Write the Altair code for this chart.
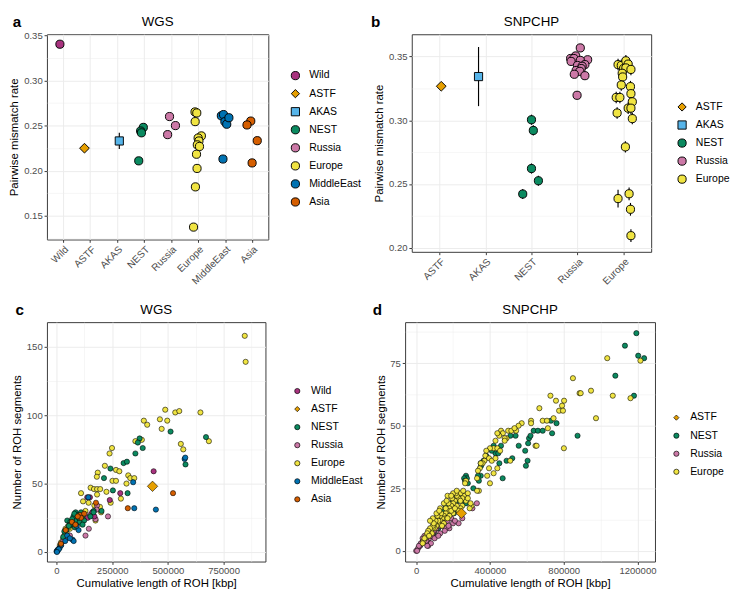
import altair as alt
import pandas as pd

FONT = "Liberation Sans"

group_colors = {
    "Wild": "#A8327E", "ASTF": "#E69F00", "AKAS": "#56B4E9", "NEST": "#0B8A60",
    "Russia": "#CC79A7", "Europe": "#F0E442", "MiddleEast": "#0072B2", "Asia": "#D55E00",
}
group_shapes = {
    "Wild": "circle", "ASTF": "diamond", "AKAS": "square", "NEST": "circle",
    "Russia": "circle", "Europe": "circle", "MiddleEast": "circle", "Asia": "circle",
}

# ---------------- panel a : WGS pairwise mismatch rate ----------------
a_categories = ["Wild", "ASTF", "AKAS", "NEST", "Russia", "Europe", "MiddleEast", "Asia"]
# (group, rate, interval half-width, horizontal jitter in category units)
a_points = [
    ("Wild", 0.340, 0.003, -0.12),
    ("ASTF", 0.225, 0.003, -0.21),
    ("AKAS", 0.233, 0.009, 0.08),
    ("NEST", 0.248, 0.003, -0.03), ("NEST", 0.244, 0.003, -0.13),
    ("NEST", 0.242, 0.003, -0.10), ("NEST", 0.211, 0.003, -0.20),
    ("Russia", 0.260, 0.003, -0.06), ("Russia", 0.250, 0.003, 0.16), ("Russia", 0.240, 0.003, -0.13),
    ("Europe", 0.2651, 0.003, -0.115), ("Europe", 0.2640, 0.003, -0.05), ("Europe", 0.2544, 0.003, -0.11),
    ("Europe", 0.2386, 0.003, 0.12), ("Europe", 0.2362, 0.003, 0.00), ("Europe", 0.2330, 0.003, 0.03),
    ("Europe", 0.2287, 0.003, -0.03), ("Europe", 0.2269, 0.003, 0.05), ("Europe", 0.2183, 0.003, -0.06),
    ("Europe", 0.2026, 0.003, -0.04), ("Europe", 0.1822, 0.003, -0.10), ("Europe", 0.1377, 0.003, -0.17),
    ("MiddleEast", 0.2608, 0.003, -0.14), ("MiddleEast", 0.2622, 0.003, -0.06), ("MiddleEast", 0.2544, 0.003, -0.01),
    ("MiddleEast", 0.2515, 0.003, 0.06), ("MiddleEast", 0.2587, 0.003, 0.14), ("MiddleEast", 0.2130, 0.003, -0.08),
    ("Asia", 0.2550, 0.003, -0.05), ("Asia", 0.2507, 0.003, -0.19), ("Asia", 0.2333, 0.003, 0.19), ("Asia", 0.2087, 0.003, 0.00),
]

# ---------------- panel b : SNPCHP pairwise mismatch rate ----------------
b_categories = ["ASTF", "AKAS", "NEST", "Russia", "Europe"]
b_points = [
    ("ASTF", 0.3267, 0.0025, 0.04),
    ("AKAS", 0.3343, 0.0232, -0.15),
    ("NEST", 0.3004, 0.004, 0.00), ("NEST", 0.2920, 0.004, 0.04), ("NEST", 0.2621, 0.004, 0.00),
    ("NEST", 0.2525, 0.004, 0.15), ("NEST", 0.2421, 0.004, -0.19),
    ("Russia", 0.3568, 0.003, 0.06), ("Russia", 0.3505, 0.003, -0.04), ("Russia", 0.3485, 0.003, -0.15),
    ("Russia", 0.3485, 0.003, -0.08), ("Russia", 0.3475, 0.003, 0.22), ("Russia", 0.3470, 0.003, 0.06),
    ("Russia", 0.3462, 0.003, -0.14), ("Russia", 0.3437, 0.003, 0.16), ("Russia", 0.3430, 0.003, 0.00),
    ("Russia", 0.3424, 0.003, 0.10), ("Russia", 0.3406, 0.003, 0.08), ("Russia", 0.3391, 0.003, -0.03),
    ("Russia", 0.3384, 0.003, 0.05), ("Russia", 0.3361, 0.003, -0.07), ("Russia", 0.3350, 0.003, 0.16),
    ("Russia", 0.3196, 0.003, -0.01),
    ("Europe", 0.3437, 0.0045, -0.12), ("Europe", 0.3430, 0.0045, -0.05), ("Europe", 0.3467, 0.0045, 0.05),
    ("Europe", 0.3441, 0.0045, 0.10), ("Europe", 0.3406, 0.0045, 0.00), ("Europe", 0.3411, 0.0045, 0.05),
    ("Europe", 0.3399, 0.0045, 0.16), ("Europe", 0.3369, 0.0045, -0.03), ("Europe", 0.3340, 0.0045, -0.02),
    ("Europe", 0.3277, 0.0045, -0.05), ("Europe", 0.3264, 0.0045, 0.15), ("Europe", 0.3209, 0.0045, 0.16),
    ("Europe", 0.3179, 0.0045, -0.16), ("Europe", 0.3179, 0.0045, -0.08), ("Europe", 0.3145, 0.0045, 0.19),
    ("Europe", 0.3095, 0.0045, 0.10), ("Europe", 0.3095, 0.0045, 0.16), ("Europe", 0.3057, 0.0045, -0.14),
    ("Europe", 0.3013, 0.0045, 0.19), ("Europe", 0.2791, 0.0045, 0.04), ("Europe", 0.2385, 0.0070, -0.12),
    ("Europe", 0.2423, 0.0050, 0.12), ("Europe", 0.2301, 0.0050, 0.15), ("Europe", 0.2094, 0.0050, 0.16),
]

# ---------------- panel c : WGS ROH (cumulative length in 1000 kbp, number of segments) ----------------
c_categories = ["Wild", "ASTF", "NEST", "Russia", "Europe", "MiddleEast", "Asia"]
c_europe = [(845, 158), (849, 139), (488, 104), (464, 97), (497, 96), (533, 102), (551, 103), (646, 102),
            (392, 96), (407, 93), (472, 90), (558, 79), (569, 75), (684, 81), (354, 81), (383, 82),
            (249, 76), (238, 72), (217, 63), (267, 60), (282, 59), (185, 58), (181, 55), (251, 52),
            (267, 52), (322, 56), (331, 54), (349, 54), (314, 50), (153, 47), (168, 46), (182, 46),
            (196, 46), (110, 43), (224, 44), (243, 36), (289, 39), (182, 42), (119, 37), (144, 36),
            (170, 34), (195, 33), (175, 23), (200, 29), (113, 25), (52, 19), (60, 17), (45, 14),
            (30, 10), (35, 12), (20, 7), (75, 22), (90, 20), (100, 24), (55, 18), (15, 5), (40, 17),
            (65, 21), (130, 30)]
c_russia = [(231, 26), (145, 17), (130, 12), (182, 34), (180, 31), (150, 27), (175, 24), (60, 12),
            (90, 19), (40, 10), (30, 8), (20, 5)]
c_wild = [(436, 59), (286, 43), (239, 38), (138, 40), (150, 40), (160, 29), (170, 26), (140, 25)]
c_nest = [(671, 84), (512, 88), (373, 83), (365, 80), (387, 76), (354, 72), (301, 65), (316, 66),
          (242, 61), (213, 54), (253, 45), (319, 43), (167, 30), (202, 30), (579, 64), (86, 29),
          (97, 27), (110, 29), (76, 26), (48, 23), (62, 22), (90, 23), (104, 22), (124, 23), (69, 20),
          (44, 16), (83, 18), (117, 20), (166, 29), (152, 26), (35, 15), (80, 28), (60, 20), (100, 25),
          (70, 24), (55, 19), (30, 11), (115, 26)]
c_middleeast = [(575, 68), (578, 69), (446, 31), (349, 32), (344, 51), (143, 40), (99, 16), (72, 9),
                (77, 8), (39, 8), (14, 3), (0, 0.5), (7, 2), (3, 1), (21, 5), (48, 12), (90, 19),
                (5, 1), (10, 2), (2, 0), (60, 10)]
c_asia = [(523, 43), (320, 32), (177, 36), (106, 27), (124, 28), (110, 25), (69, 22), (41, 16),
          (95, 26), (85, 20), (20, 6)]
c_astf = [(431, 48)]

# ---------------- panel d : SNPCHP ROH ----------------
d_categories = ["ASTF", "NEST", "Russia", "Europe"]
d_nest = [(1194, 87), (1132, 82), (1204, 78), (1236, 77), (1080, 70), (1181, 62), (875, 46), (731, 52),
          (761, 51), (737, 47), (637, 48), (660, 48), (686, 48), (612, 45), (620, 46), (607, 43),
          (591, 40), (604, 36), (595, 34), (556, 42), (539, 46), (511, 46), (490, 36), (521, 37),
          (451, 35), (350, 35), (352, 34), (469, 29), (420, 42), (430, 39), (445, 39), (460, 42),
          (410, 40), (380, 38), (365, 36), (350, 30), (335, 30), (340, 28), (310, 25), (270, 30),
          (275, 29), (260, 29), (265, 28), (280, 27), (250, 22), (240, 22), (230, 23), (255, 20),
          (270, 19), (220, 20), (210, 21), (200, 20), (180, 18), (170, 17), (160, 18), (150, 16),
          (140, 14), (130, 13), (120, 12), (110, 11), (100, 10), (90, 9), (80, 8), (70, 7), (60, 6),
          (50, 5), (40, 4), (30, 3), (20, 2), (150, 13), (170, 15), (190, 19), (230, 20),
          (120, 9), (95, 7), (145, 11), (60, 4), (205, 15)]
d_russia = [(0, 0), (10, 1), (20, 2), (30, 3), (40, 4), (50, 4), (60, 5), (70, 5), (80, 6), (90, 7),
            (100, 8), (110, 9), (120, 10), (130, 10), (150, 11), (170, 12), (190, 13), (230, 11),
            (329, 19), (305, 17), (180, 9), (160, 9), (140, 10), (200, 11), (35, 5), (45, 6), (55, 4),
            (65, 2), (25, 3), (15, 2), (5, 0), (75, 7), (85, 6), (95, 8), (210, 12), (250, 13), (175, 10),
            (100, 5), (130, 7), (80, 3), (60, 2), (120, 6), (155, 8)]
d_europe = [(1036, 77), (1216, 76), (850, 69), (948, 64), (886, 63), (892, 63), (1066, 62), (1162, 61),
            (728, 62), (758, 60), (802, 60), (791, 58), (668, 57), (775, 56), (796, 56), (975, 53),
            (745, 53), (686, 52), (709, 52), (623, 52), (623, 51), (572, 51), (555, 50), (714, 49),
            (801, 41), (647, 42), (653, 42), (490, 45), (499, 48), (516, 48), (542, 48), (533, 49),
            (385, 30), (460, 48), (470, 47), (450, 46), (440, 47), (480, 45), (430, 44), (420, 41),
            (440, 41), (455, 40), (400, 41), (380, 40), (375, 38), (395, 37), (410, 36), (430, 37),
            (440, 33), (420, 31), (395, 33), (370, 36), (360, 35), (345, 33), (335, 32), (330, 29),
            (340, 24), (330, 24), (400, 27), (510, 36), (480, 44), (350, 35), (260, 22), (270, 20),
            (250, 21), (240, 23), (230, 21), (220, 22), (210, 20), (270, 28), (265, 27), (280, 23),
            (300, 18), (290, 17), (250, 18), (240, 17), (230, 16), (220, 18), (200, 19), (190, 18),
            (180, 17), (170, 16), (160, 15), (150, 14), (200, 15), (180, 14), (160, 13), (140, 13),
            (130, 12), (120, 11), (110, 10), (100, 9), (90, 9), (80, 8), (70, 7), (60, 6), (50, 5),
            (40, 4), (150, 11), (140, 10), (130, 14), (110, 13), (120, 12), (100, 11), (90, 10), (85, 7),
            (75, 9), (65, 8), (55, 6), (45, 5), (35, 3), (170, 13), (190, 16), (210, 17), (160, 17),
            (175, 19), (195, 21), (215, 23), (240, 20), (255, 24), (135, 15), (115, 14), (105, 12),
            (95, 11), (60, 7), (70, 6), (150, 19), (170, 22), (130, 17), (110, 15), (90, 13), (200, 23),
            (220, 24), (190, 22), (165, 20), (125, 16), (75, 12), (280, 21), (295, 19)]
d_astf = [(245, 15)]


def cond(test, minor_value, major_value):
    return {"condition": {"test": test, "value": minor_value}, "value": major_value}


def header_layers(letter, title, width, lx, ly):
    lab = alt.Chart(pd.DataFrame({"letter": [letter]})).mark_text(
        font=FONT, fontSize=16, fontWeight="bold", align="left", baseline="middle", color="black"
    ).encode(text="letter:N", x=alt.value(lx), y=alt.value(ly))
    ttl = alt.Chart(pd.DataFrame({"title": [title]})).mark_text(
        font=FONT, fontSize=14, align="center", baseline="middle", color="black"
    ).encode(text="title:N", x=alt.value(width / 2), y=alt.value(ly))
    return [lab, ttl]


def make_legend(lx, ly, size, stroke_w, row_pad):
    return alt.Legend(title=None, orient="none", legendX=lx, legendY=ly,
                      symbolStrokeWidth=stroke_w, symbolSize=size,
                      symbolOpacity=1, labelFontSize=11, labelFont=FONT, labelColor="black",
                      rowPadding=row_pad, padding=0, labelOffset=9)


def mismatch_panel(points, cats, title, letter, width, height, ydomain, legend_xy, letter_xy):
    df = pd.DataFrame(points, columns=["group", "rate", "err", "jit"])
    df["pos"] = [cats.index(g) + j for g, j in zip(df["group"], df["jit"])]
    df["lo"] = df["rate"] - df["err"]
    df["hi"] = df["rate"] + df["err"]
    names = ",".join("'%s'" % c for c in cats)
    xaxis = alt.Axis(title=None, values=list(range(len(cats))),
                     labelExpr="[%s][round(datum.value)]" % names,
                     labelAngle=-45, labelAlign="right", labelBaseline="top",
                     labelFontSize=10.5, labelFlush=False, labelOverlap=False)
    xscale = alt.Scale(domain=[-0.6, len(cats) - 0.4], nice=False, zero=False)
    k0 = int(ydomain[0] / 0.025) + 1
    k1 = int(ydomain[1] / 0.025)
    yvals = [round(k * 0.025, 3) for k in range(k0, k1 + 1)]
    minor = "abs(datum.value*20 - round(datum.value*20)) > 0.01"
    yaxis = alt.Axis(title="Pairwise mismatch rate", values=yvals,
                     labelExpr="%s ? '' : format(datum.value, '.2f')" % minor,
                     gridWidth=cond(minor, 0.5, 1), tickOpacity=cond(minor, 0, 1),
                     labelOverlap=False)
    yscale = alt.Scale(domain=ydomain, nice=False, zero=False)
    leg = make_legend(legend_xy[0], legend_xy[1], 75, 1, 6)
    base = alt.Chart(df)
    rules = base.mark_rule(color="black", strokeWidth=1.2).encode(
        x=alt.X("pos:Q", scale=xscale, axis=xaxis),
        y=alt.Y("lo:Q", scale=yscale, axis=yaxis),
        y2="hi:Q",
    )
    pts = base.mark_point(filled=True, opacity=1).encode(
        x=alt.X("pos:Q", scale=xscale, axis=xaxis),
        y=alt.Y("rate:Q", scale=yscale, axis=yaxis),
        fill=alt.Fill("group:N", scale=alt.Scale(domain=cats, range=[group_colors[c] for c in cats]), legend=leg),
        shape=alt.Shape("group:N", scale=alt.Scale(domain=cats, range=[group_shapes[c] for c in cats]), legend=leg),
        stroke=alt.value("black"),
        strokeWidth=alt.value(1),
        size=alt.condition("datum.group == 'ASTF'", alt.value(105), alt.value(74)),
    )
    return alt.layer(rules, pts, *header_layers(letter, title, width, *letter_xy)).properties(
        width=width, height=height)


def roh_panel(series, order, cats, title, letter, width, height, xdomain, xstep, ydomain, ystep,
              legend_xy, letter_xy):
    rows = []
    for g in order:
        for x, y in series[g]:
            rows.append((g, x * 1000, y))
    df = pd.DataFrame(rows, columns=["group", "length", "nseg"])
    xvals = [k * xstep / 2 for k in range(0, int(xdomain[1] // (xstep / 2)) + 1)]
    yvals = [k * ystep / 2 for k in range(0, int(ydomain[1] // (ystep / 2)) + 1)]
    xminor = "datum.value %% %d != 0" % xstep
    yminor = "datum.value %% %d != 0" % ystep
    xaxis = alt.Axis(title="Cumulative length of ROH [kbp]", values=xvals,
                     labelExpr="%s ? '' : format(datum.value, 'd')" % xminor,
                     gridWidth=cond(xminor, 0.5, 1), tickOpacity=cond(xminor, 0, 1),
                     labelFlush=False, labelOverlap=False, titlePadding=2)
    yaxis = alt.Axis(title="Number of ROH segments", values=yvals,
                     labelExpr="%s ? '' : format(datum.value, 'd')" % yminor,
                     gridWidth=cond(yminor, 0.5, 1), tickOpacity=cond(yminor, 0, 1),
                     labelOverlap=False)
    leg = make_legend(legend_xy[0], legend_xy[1], 30, 0.7, 7)
    pts = alt.Chart(df).mark_point(filled=True, opacity=1).encode(
        x=alt.X("length:Q", scale=alt.Scale(domain=xdomain, nice=False, zero=False), axis=xaxis),
        y=alt.Y("nseg:Q", scale=alt.Scale(domain=ydomain, nice=False, zero=False), axis=yaxis),
        fill=alt.Fill("group:N", scale=alt.Scale(domain=cats, range=[group_colors[c] for c in cats]), legend=leg),
        shape=alt.Shape("group:N", scale=alt.Scale(domain=cats, range=[group_shapes[c] for c in cats]), legend=leg),
        stroke=alt.value("black"),
        strokeWidth=alt.value(0.6),
        size=alt.condition("datum.group == 'ASTF'", alt.value(120), alt.value(30)),
    )
    return alt.layer(pts, *header_layers(letter, title, width, *letter_xy)).properties(
        width=width, height=height)


pa = mismatch_panel(a_points, a_categories, "WGS", "a", 233, 216, [0.124, 0.351],
                    (256, 38), (-36, -13))
pb = mismatch_panel(b_points, b_categories, "SNPCHP", "b", 252, 229, [0.1967, 0.3675],
                    (279, 71), (-43, -13))
pc = roh_panel({"Wild": c_wild, "ASTF": c_astf, "NEST": c_nest, "Russia": c_russia,
                "Europe": c_europe, "MiddleEast": c_middleeast, "Asia": c_asia},
               ["Europe", "Russia", "Wild", "NEST", "MiddleEast", "Asia", "ASTF"],
               c_categories, "WGS", "c", 230, 252, [-43000, 938000], 250000, [-7, 168], 50,
               (258, 67), (-33, -13))
pd_ = roh_panel({"ASTF": d_astf, "NEST": d_nest, "Russia": d_russia, "Europe": d_europe},
                ["NEST", "Russia", "Europe", "ASTF"],
                d_categories, "SNPCHP", "d", 263, 252, [-60000, 1295000], 400000, [-4.3, 91.4], 25,
                (280, 95), (-34, -13))

top = alt.hconcat(pa, pb, spacing=8).resolve_scale(fill="independent", shape="independent")
bottom = alt.hconcat(pc, pd_, spacing=8).resolve_scale(fill="independent", shape="independent")
chart = alt.vconcat(top, bottom, spacing=15).resolve_scale(
    fill="independent", shape="independent"
).properties(padding={"left": 0, "top": -10, "right": 0, "bottom": 0}).configure_view(
    stroke="#333333", strokeWidth=1
).configure_axis(
    domain=False, tickColor="#333333", tickSize=3, labelColor="#4D4D4D", labelFont=FONT,
    labelFontSize=10, titleFont=FONT, titleFontSize=12, titleFontWeight="normal",
    titleColor="black", gridColor="#EBEBEB", labelPadding=2, titlePadding=3,
)

chart.save("out.html", embed_options={"renderer": "svg", "actions": False})
